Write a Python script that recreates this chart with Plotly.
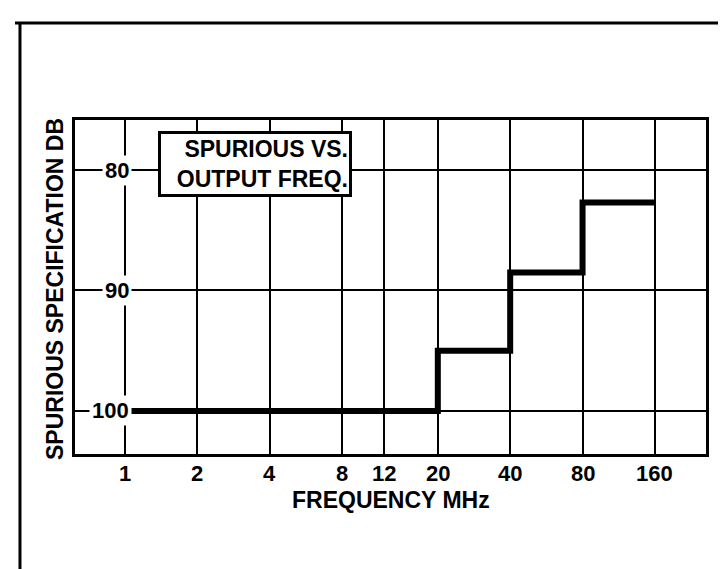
import math
import plotly.graph_objects as go

# ---- data ----
freq_mhz = [1, 20, 40, 80, 160]              # step edges (MHz)
spurious_db = [100, 95, 88.5, 82.7, 82.7]     # spurious spec (dB below carrier)
x_ticks = [1, 2, 4, 8, 12, 20, 40, 80, 160]
x_tick_labels = ["1", "2", "4", "8", "12", "20", "40", "80", "160"]
y_ticks = [80, 90, 100]
y_tick_labels = ["80", "90", "100"]

FONT = "Liberation Sans, Arial, Helvetica, sans-serif"


def bold(s):
    return "<b>" + s + "</b>"


fig = go.Figure()
fig.add_trace(go.Scatter(
    x=freq_mhz, y=spurious_db, mode="lines",
    line=dict(color="black", width=6, shape="hv"),
    showlegend=False, hoverinfo="skip",
))

annotations = []
# y tick labels drawn inside the plot, masking the grid
for v, t in zip(y_ticks, y_tick_labels):
    annotations.append(dict(
        x=0, y=v, xref="x", yref="y", text=t, showarrow=False,
        xanchor="right", yanchor="middle", xshift=7,
        font=dict(family=FONT, size=22, color="black"),
        bgcolor="white", borderpad=2,
    ))
# x tick labels
for v, t in zip(x_ticks, x_tick_labels):
    annotations.append(dict(
        x=math.log10(v), y=-0.0569, xref="x", yref="paper", text=t, showarrow=False,
        xanchor="center", yanchor="middle",
        font=dict(family=FONT, size=22, color="black"),
    ))

annotations.append(dict(
    x=0.2845, y=0.8668, xref="paper", yref="paper",
    text="SPURIOUS VS.<br>OUTPUT FREQ.", showarrow=False,
    xanchor="center", yanchor="middle", align="right",
    font=dict(family=FONT, size=23, color="black"),
    bgcolor="white", bordercolor="black", borderwidth=3, borderpad=1,
    width=186, height=58,
))

annotations.append(dict(
    x=-0.0317, y=0.494, xref="paper", yref="paper",
    text="SPURIOUS SPECIFICATION DB", showarrow=False, textangle=-90,
    xanchor="center", yanchor="middle",
    font=dict(family=FONT, size=23, color="black"),
))
annotations.append(dict(
    x=0.5, y=-0.1377, xref="paper", yref="paper",
    text="FREQUENCY MHz", showarrow=False,
    xanchor="center", yanchor="middle",
    font=dict(family=FONT, size=23, color="black"),
))

for a in annotations:
    a["text"] = bold(a["text"].replace("<br>", "</b><br><b>"))

# scan frame lines
shapes = [
    dict(type="line", xref="paper", yref="paper", x0=-0.0951, x1=1.05, y0=1.2904, y1=1.2904,
         line=dict(color="black", width=3)),
    dict(type="line", xref="paper", yref="paper", x0=-0.0872, x1=-0.0872, y0=1.2934, y1=-0.37,
         line=dict(color="black", width=3)),
    dict(type="line", xref="paper", yref="paper", x0=0.689, x1=1.05, y0=-0.3623, y1=-0.3623,
         line=dict(color="black", width=3)),
]

fig.update_layout(
    width=726, height=569,
    margin=dict(l=67, r=28, t=112, b=123),
    paper_bgcolor="white", plot_bgcolor="white",
    showlegend=False,
    font=dict(family=FONT, size=22, color="black"),
    annotations=annotations, shapes=shapes,
    xaxis=dict(
        type="log", range=[math.log10(0.619), math.log10(261)],
        tickvals=x_ticks, showticklabels=False,
        showgrid=True, gridcolor="black", gridwidth=1.5,
        showline=True, linecolor="black", linewidth=3, mirror=True,
        ticks="", zeroline=False,
    ),
    yaxis=dict(
        range=[103.57, 75.85],
        tickvals=y_ticks, showticklabels=False,
        showgrid=True, gridcolor="black", gridwidth=1.5,
        showline=True, linecolor="black", linewidth=3, mirror=True,
        ticks="", zeroline=False,
    ),
)

fig.write_html("out.html")
